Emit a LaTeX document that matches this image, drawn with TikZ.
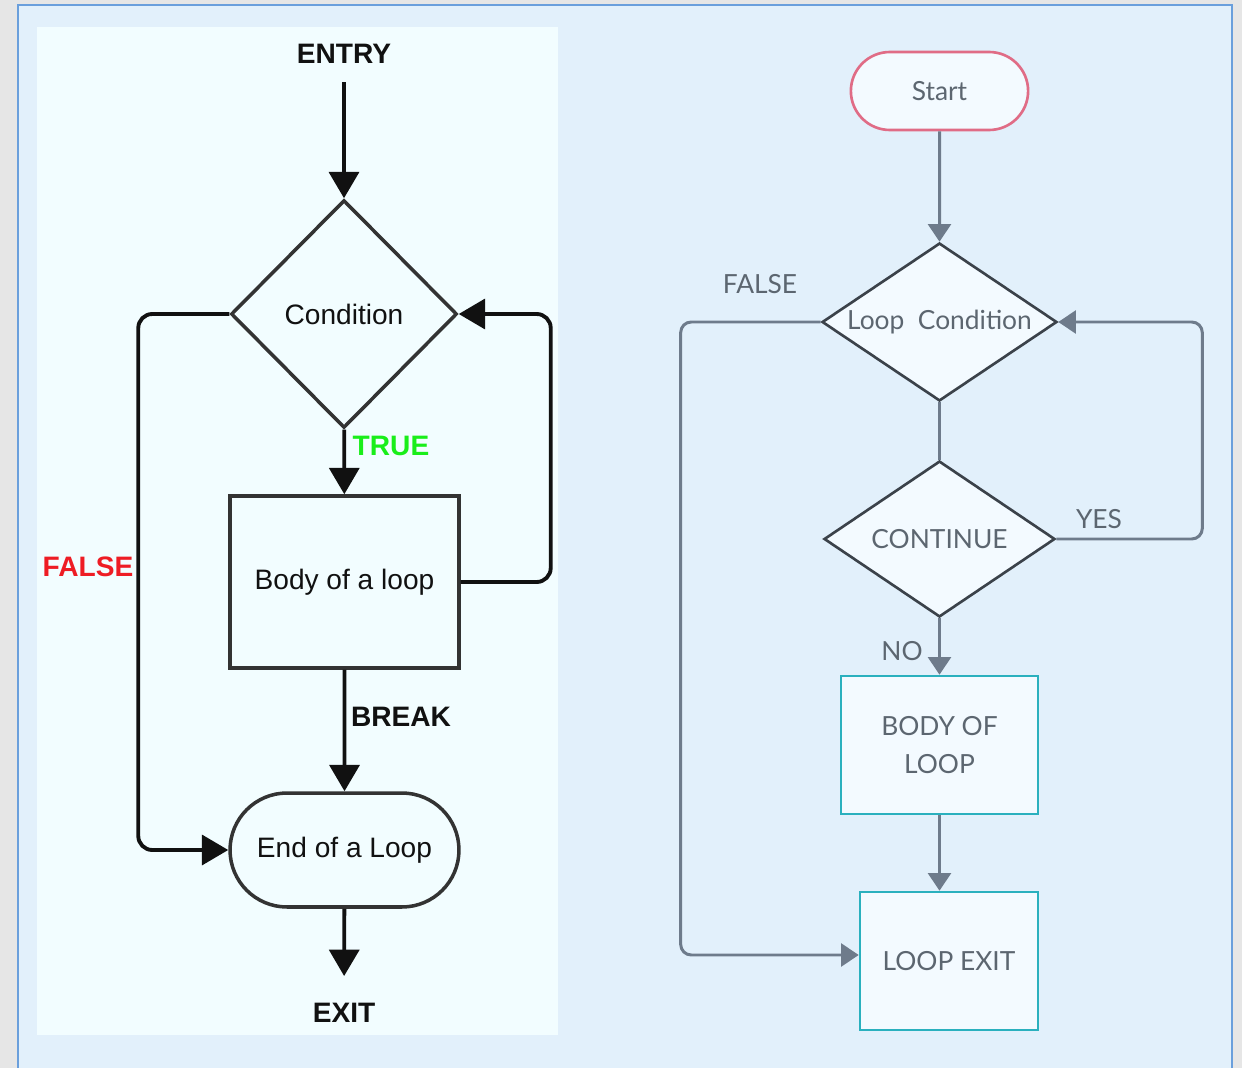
\documentclass[tikz,border=0pt]{standalone}
\usepackage{fontspec}
\setmainfont{Liberation Sans}
\newfontfamily\latofont{Lato}
\usetikzlibrary{shapes.geometric,shapes.misc,arrows.meta}

\definecolor{pagegray}{HTML}{E6E6E6}
\definecolor{frameblue}{HTML}{6A9FDC}
\definecolor{bgblue}{HTML}{E2F0FB}
\definecolor{panelwhite}{HTML}{F2FDFF}
\definecolor{lineblack}{HTML}{111111}
\definecolor{shapeblack}{HTML}{333333}
\definecolor{truegreen}{HTML}{1AEE1A}
\definecolor{falsered}{HTML}{EE1C24}
\definecolor{rline}{HTML}{6E7B8B}
\definecolor{rshape}{HTML}{3B424A}
\definecolor{rtext}{HTML}{5C6670}
\definecolor{startpink}{HTML}{E06C86}
\definecolor{boxteal}{HTML}{2AB0BE}
\definecolor{rfill}{HTML}{F3FAFF}

\begin{document}
\begin{tikzpicture}[x=0.02cm,y=-0.02cm,
    ltext/.style={text=lineblack,font=\fontsize{16}{19}\selectfont},
    lbold/.style={text=lineblack,font=\fontsize{16}{19}\selectfont\bfseries},
    lline/.style={draw=lineblack,line width=2.2pt},
    larrow/.style={lline,-{Triangle[length=15pt,width=17pt]}},
    lshape/.style={ltext,draw=shapeblack,line width=2pt,fill=panelwhite,inner sep=0pt},
    rtxt/.style={text=rtext,font=\latofont\fontsize{15}{21.5}\selectfont},
    rline/.style={draw=rline,line width=1.7pt},
    rarrow/.style={rline,-{Triangle[length=10pt,width=13pt]}},
    rdiamond/.style={rtxt,diamond,draw=rshape,line width=1.5pt,fill=rfill,inner sep=0pt,aspect=1.5},
    rbox/.style={rtxt,rectangle,draw=boxteal,line width=1.5pt,fill=rfill,align=center}]
    \useasboundingbox (0,0) rectangle (1242,1068);
    % Background
    \fill[pagegray] (0,0) rectangle (1242,1068);
    \filldraw[fill=bgblue,draw=frameblue,line width=1.2pt] (18,5) rectangle (1232,1090);
    \fill[panelwhite] (37,27) rectangle (558,1035);

    % Left chart
    \node[lbold] (entry) at (344,54) {ENTRY};
    \node[lshape,diamond,aspect=1,minimum width=4.52cm,minimum height=4.56cm] (cond) at (344,314) {Condition};
    \node[lshape,rectangle,minimum width=4.58cm,minimum height=3.44cm] (lbody) at (344.5,582) {Body of a loop};
    \node[lshape,rounded rectangle,minimum width=4.58cm,minimum height=2.28cm] (lend) at (344.5,850) {End of a Loop};
    \node[lbold] (exit) at (344,1013) {EXIT};
    % Left labels
    \node[lbold,text=truegreen] (truelbl) at (391,446) {TRUE};
    \node[lbold,text=falsered] (falselbl) at (88,567) {FALSE};
    \node[lbold] (breaklbl) at (401,717) {BREAK};
    % Left connectors
    \draw[larrow,shorten <=7pt] (entry) -- (cond);
    \draw[larrow] (cond) -- (lbody);
    \draw[larrow] (lbody) -- (lend);
    \draw[larrow,shorten >=12pt] (lend) -- (exit);
    \draw[larrow,rounded corners=8pt] (lbody.east) -- ++(90,0) |- (cond.east);
    \draw[larrow,rounded corners=8pt] (cond.west) -- ++(-91,0) |- (lend.west);

    % Right chart
    \node[rtxt,rounded rectangle,draw=startpink,line width=1.5pt,fill=rfill,minimum width=3.78cm,minimum height=1.56cm] (start) at (939.5,91) {Start};
    \node[rdiamond,minimum width=4.7cm,minimum height=3.16cm] (lcond) at (939.5,322) {Loop~~Condition};
    \node[rdiamond,minimum width=4.62cm,minimum height=3.12cm] (cont) at (939.5,539) {CONTINUE};
    \node[rbox,minimum width=3.94cm,minimum height=2.76cm] (rbody) at (939.5,745) {BODY OF\\LOOP};
    \node[rbox,minimum width=3.56cm,minimum height=2.76cm] (lexit) at (949,961) {LOOP EXIT};
    % Right labels
    \node[rtxt] (rfalse) at (760,284) {FALSE};
    \node[rtxt] (yeslbl) at (1099,519) {YES};
    \node[rtxt] (nolbl) at (902,651) {NO};
    % Right connectors
    \draw[rarrow] (start) -- (lcond);
    \draw[rline] (lcond) -- (cont);
    \draw[rarrow] (cont) -- (rbody);
    \draw[rarrow] (rbody.south) -- (rbody.south |- lexit.north);
    \draw[rarrow,rounded corners=6pt] (lcond.west) -- ++(-140,0) |- ([yshift=0.12cm]lexit.west);
    \draw[rarrow,rounded corners=6pt] (cont.east) -- ++(146,0) |- (lcond.east);
\end{tikzpicture}
\end{document}
